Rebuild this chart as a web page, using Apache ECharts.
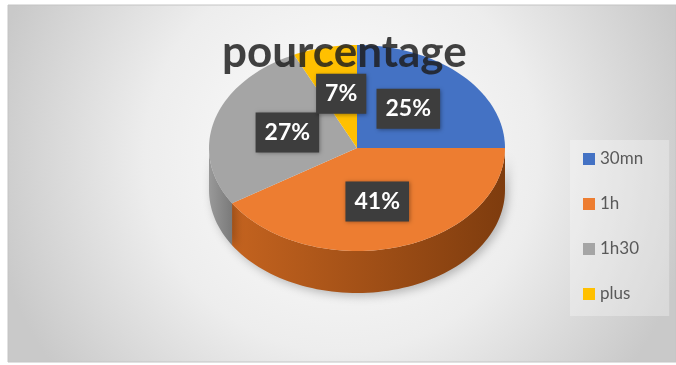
<!DOCTYPE html>
<html>
<head>
<meta charset="utf-8">
<script src="https://cdn.jsdelivr.net/npm/echarts@6/dist/echarts.min.js"></script>
<style>
html,body{margin:0;padding:0;background:#ffffff;}
#main{width:676px;height:365px;}
</style>
</head>
<body>
<div id="main"></div>
<script>
// ---- data ----
const categories = ['30mn', '1h', '1h30', 'plus'];
const values = [25, 41, 27, 7];
const colors = ['#4472C4', '#ED7D31', '#A5A5A5', '#FFC000'];
const sideColors = [['#33569a', '#24406f'], ['#c4631f', '#7e3c0e'], ['#999999', '#7a7a7a'], ['#c79500', '#9a7300']];
const titleText = 'pourcentage';

// ---- geometry (layout) ----
const CX = 357, CY = 148, RX = 148, RY = 103, DEPTH = 42;
const total = values.reduce((a, b) => a + b, 0);
const cum = [];
values.reduce((acc, v, i) => { cum[i] = acc; return acc + v; }, 0);

function arcPts(a, b, dy) {
  const pts = [];
  const n = Math.max(2, Math.ceil(Math.abs(b - a) / (Math.PI / 90)));
  for (let k = 0; k <= n; k++) {
    const t = a + (b - a) * k / n;
    pts.push([CX + RX * Math.cos(t), CY + RY * Math.sin(t) + dy]);
  }
  return pts;
}

function makeRender(i) {
  return function (params, api) {
    const v = api.value(0);
    const start = cum[i] / total * Math.PI * 2 - Math.PI / 2;
    const end = start + v / total * Math.PI * 2;
    const children = [];
    const a = Math.max(start, 0), b = Math.min(end, Math.PI);
    if (a < b) {
      const top = arcPts(a, b, 0);
      const bot = arcPts(b, a, DEPTH);
      children.push({
        type: 'polygon', z2: 1,
        shape: { points: top.concat(bot) },
        style: {
          fill: new echarts.graphic.LinearGradient(0, 0, 1, 0, [
            { offset: 0, color: sideColors[i][0] },
            { offset: 1, color: sideColors[i][1] }
          ]),
          shadowBlur: 10, shadowColor: 'rgba(0,0,0,0.25)', shadowOffsetX: 3, shadowOffsetY: 3
        }
      });
    }
    children.push({
      type: 'polygon', z2: 10,
      shape: { points: [[CX, CY]].concat(arcPts(start, end, 0)) },
      style: { fill: colors[i] }
    });
    const mid = (start + end) / 2;
    children.push({
      type: 'text', z2: 20,
      x: CX + RX * 0.49 * Math.cos(mid),
      y: CY + RY * 0.54 * Math.sin(mid),
      style: {
        text: v + '%',
        fill: '#ffffff',
        font: 'bold 23px Lato',
        align: 'center',
        verticalAlign: 'middle',
        backgroundColor: '#3d3d3d',
        padding: [9, 9, 8, 9],
        shadowBlur: 4, shadowColor: 'rgba(0,0,0,0.35)', shadowOffsetX: 1, shadowOffsetY: 1
      }
    });
    return { type: 'group', children: children };
  };
}

const series = categories.map((name, i) => ({
  type: 'custom',
  name: name,
  coordinateSystem: 'none',
  itemStyle: { color: colors[i] },
  renderItem: makeRender(i),
  data: [[values[i]]],
  silent: true,
  animation: false
}));

const chart = echarts.init(document.getElementById('main'), null, { renderer: 'canvas' });
chart.setOption({
  animation: false,
  graphic: [{
    type: 'rect', z: -10, silent: true,
    shape: { x: 8, y: 5, width: 668, height: 357 },
    style: {
      fill: new echarts.graphic.RadialGradient(0.5, 0.42, 1.0, [
        { offset: 0, color: '#ffffff' },
        { offset: 0.55, color: '#ededed' },
        { offset: 1, color: '#c9c9c9' }
      ]),
      stroke: '#c4c4c4', lineWidth: 1
    }
  }],
  title: {
    text: titleText,
    left: 222, top: 31,
    padding: 0,
    textStyle: { fontFamily: 'Lato', fontWeight: 'bold', fontSize: 44, color: 'rgba(30,30,30,0.84)' }
  },
  legend: {
    data: categories,
    orient: 'vertical',
    left: 570, top: 140,
    padding: [9, 26, 12, 13],
    itemWidth: 12, itemHeight: 12,
    itemGap: 25,
    icon: 'rect',
    backgroundColor: 'rgba(255,255,255,0.3)',
    textStyle: { fontFamily: 'Lato', fontSize: 17, color: '#595959', lineHeight: 20 }
  },
  series: series
});
</script>
</body>
</html>
